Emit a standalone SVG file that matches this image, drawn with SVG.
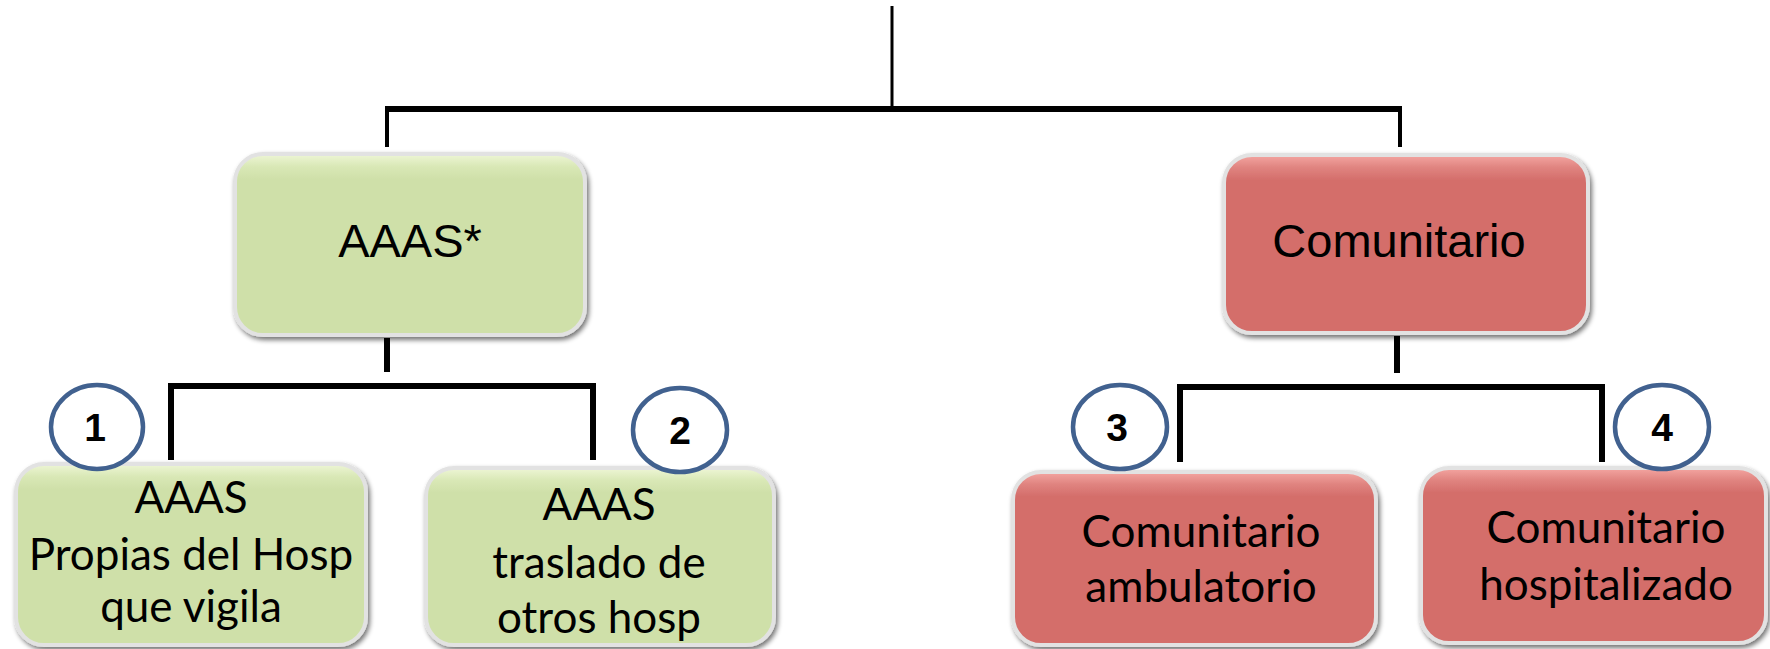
<svg xmlns="http://www.w3.org/2000/svg" width="1770" height="649" viewBox="0 0 1770 649">
<defs>
<linearGradient id="gG" x1="0" y1="0" x2="0" y2="1">
<stop offset="0" stop-color="#EEF6D6"/>
<stop offset="0.07" stop-color="#D9E8B6"/>
<stop offset="0.14" stop-color="#CFE0A9"/>
<stop offset="1" stop-color="#CFE0A9"/>
</linearGradient>
<linearGradient id="gR" x1="0" y1="0" x2="0" y2="1">
<stop offset="0" stop-color="#F4A6A2"/>
<stop offset="0.07" stop-color="#E08480"/>
<stop offset="0.14" stop-color="#D46E6B"/>
<stop offset="1" stop-color="#D46E6B"/>
</linearGradient>
<filter id="sh" x="-5%" y="-5%" width="112%" height="115%">
<feGaussianBlur in="SourceAlpha" stdDeviation="2.5"/>
<feOffset dx="2" dy="3" result="b"/>
<feComponentTransfer><feFuncA type="linear" slope="0.55"/></feComponentTransfer>
<feMerge><feMergeNode/><feMergeNode in="SourceGraphic"/></feMerge>
</filter>
</defs>
<style>
.g{fill:url(#gG);stroke:#E2E2E2;stroke-width:4;filter:url(#sh)}
.r{fill:url(#gR);stroke:#E2E2E2;stroke-width:4;filter:url(#sh)}
.t1{font-family:"Liberation Sans",Arial,sans-serif;font-size:47px;fill:#000;text-anchor:middle}
.t2{font-family:Lato,"Open Sans",sans-serif;font-size:44px;fill:#000;text-anchor:middle}
.num{font-family:"Liberation Sans",Arial,sans-serif;font-size:39px;font-weight:bold;fill:#000;text-anchor:middle}
.c{fill:#fff;stroke:#41618F;stroke-width:4.5}
.ln{stroke:#000;fill:none;stroke-linecap:butt}
</style>
<g id="connectors">
<line class="ln" x1="892" y1="6" x2="892" y2="110" stroke-width="3"/>
<line class="ln" x1="385" y1="109" x2="1402" y2="109" stroke-width="6"/>
<line class="ln" x1="387" y1="109" x2="387" y2="147" stroke-width="4"/>
<line class="ln" x1="1400" y1="109" x2="1400" y2="147" stroke-width="4"/>
<line class="ln" x1="387" y1="338" x2="387" y2="372" stroke-width="6"/>
<line class="ln" x1="1397" y1="336" x2="1397" y2="373" stroke-width="6"/>
<polyline class="ln" points="171,460 171,386 593,386 593,460" stroke-width="6"/>
<polyline class="ln" points="1180,462 1180,387 1602,387 1602,462" stroke-width="6"/>
</g>
<g id="node-aaas">
<rect class="g" x="235" y="154" width="350" height="181" rx="28"/>
<text class="t1" x="410" y="257">AAAS*</text>
</g>
<g id="node-comunitario">
<rect class="r" x="1224" y="155" width="364" height="178" rx="28"/>
<text class="t1" x="1399" y="257">Comunitario</text>
</g>
<g id="node-propias">
<rect class="g" x="16" y="464" width="350" height="181" rx="28"/>
<text class="t2" x="191" y="513">AAAS</text>
<text class="t2" x="191" y="570">Propias del Hosp</text>
<text class="t2" x="191" y="622">que vigila</text>
</g>
<g id="node-traslado">
<rect class="g" x="426" y="468" width="348" height="177" rx="28"/>
<text class="t2" x="599" y="520">AAAS</text>
<text class="t2" x="599" y="578">traslado de</text>
<text class="t2" x="599" y="633">otros hosp</text>
</g>
<g id="node-ambulatorio">
<rect class="r" x="1013" y="472" width="363" height="173" rx="28"/>
<text class="t2" x="1201" y="547">Comunitario</text>
<text class="t2" x="1201" y="602">ambulatorio</text>
</g>
<g id="node-hospitalizado">
<rect class="r" x="1421" y="468" width="345" height="175" rx="28"/>
<text class="t2" x="1606" y="543">Comunitario</text>
<text class="t2" x="1606" y="600">hospitalizado</text>
</g>
<g id="badge-1">
<ellipse class="c" cx="97" cy="427" rx="46" ry="42"/>
<text class="num" x="95" y="441">1</text>
</g>
<g id="badge-2">
<ellipse class="c" cx="680" cy="430" rx="47" ry="42"/>
<text class="num" x="680" y="444">2</text>
</g>
<g id="badge-3">
<ellipse class="c" cx="1120" cy="427" rx="47" ry="42"/>
<text class="num" x="1117" y="441">3</text>
</g>
<g id="badge-4">
<ellipse class="c" cx="1662" cy="427" rx="47" ry="42"/>
<text class="num" x="1662" y="441">4</text>
</g>
</svg>
